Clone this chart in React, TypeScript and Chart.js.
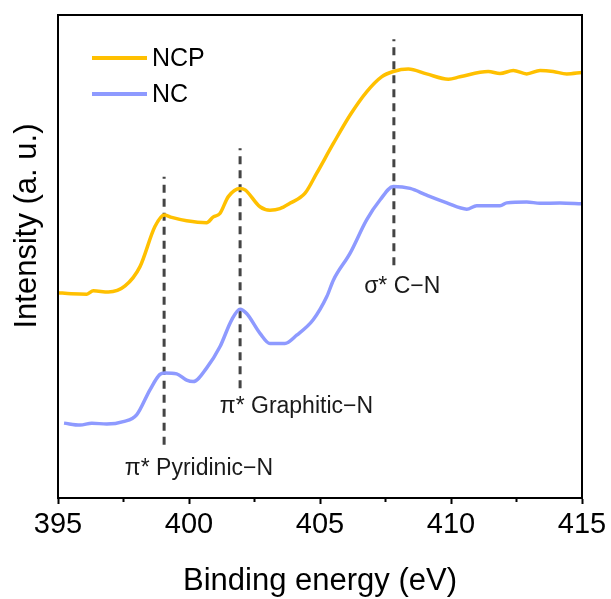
import React, { useEffect, useRef } from "react";
import { Chart, registerables } from "chart.js";

Chart.register(...registerables);

// N K-edge NEXAFS spectra
const ncpEnergy = [395.0, 395.5, 396.1, 396.35, 396.92, 397.56, 398.13, 398.7, 399.05, 399.34, 399.91, 400.67, 400.93, 401.18, 401.5, 401.95, 402.14, 402.71, 403.09, 403.47, 403.85, 404.43, 404.87, 405.51, 406.15, 406.78, 407.35, 407.8, 408.37, 409.07, 409.9, 410.34, 411.42, 411.87, 412.38, 412.89, 413.4, 413.9, 414.42, 414.99];
const ncpIntensity = [42.5, 42.3, 42.2, 42.9, 42.65, 43.9, 47.9, 56.2, 58.6, 58.1, 57.4, 57.0, 58.2, 58.9, 62.4, 64.1, 63.8, 60.3, 59.6, 59.9, 61.0, 63.1, 67.2, 73.4, 79.3, 84.1, 87.2, 88.3, 88.8, 87.8, 86.7, 87.2, 88.3, 87.9, 88.5, 87.8, 88.5, 88.3, 87.8, 88.1];

const ncEnergy = [395.23, 395.84, 396.29, 396.86, 397.49, 398.0, 398.51, 398.89, 399.08, 399.53, 399.91, 400.16, 400.67, 401.18, 401.63, 401.95, 402.2, 402.71, 403.09, 403.66, 404.11, 404.74, 405.26, 405.51, 406.15, 406.78, 407.29, 407.8, 408.44, 409.07, 409.84, 410.6, 410.98, 411.87, 412.13, 412.89, 413.4, 414.16, 414.99];
const ncIntensity = [15.5, 15.1, 15.5, 15.3, 15.8, 17.2, 22.4, 25.6, 25.9, 25.7, 24.4, 24.1, 26.9, 31.3, 36.9, 39.1, 38.2, 34.1, 32.0, 32.0, 33.7, 36.9, 41.7, 45.1, 50.7, 57.6, 61.7, 64.5, 64.1, 62.7, 61.1, 59.8, 60.5, 60.5, 61.1, 61.3, 61.0, 61.1, 60.9];

// Resonance markers
const peakEnergy = [399.05, 401.95, 407.82];
const peakTop = [66.5, 72.4, 95.0];
const peakBottom = [11.0, 22.7, 48.2];
const peakLabels = ["π* Pyridinic−N", "π* Graphitic−N", "σ* C−N"];
const peakLabelX = [400.38, 404.1, 408.14];
const peakLabelY = [6.1, 18.9, 43.7];

const seriesNames = ["NCP", "NC"];
const seriesColors = ["#FFC000", "#8E9AFF"];

const xTicks = [395, 400, 405, 410, 415];
const xMinorTicks = [397.5, 402.5, 407.5, 412.5];

const FONT = "'Liberation Sans', Arial, sans-serif";

const toPoints = (xs: number[], ys: number[]) => xs.map((x, i) => ({ x, y: ys[i] }));

const decorPlugin = {
  id: "decor",
  afterDraw(chart: any) {
    const { ctx, chartArea, scales } = chart;
    const xs = scales.x;
    const ys = scales.y;
    ctx.save();
    // frame
    ctx.strokeStyle = "#000";
    ctx.lineWidth = 2;
    ctx.strokeRect(chartArea.left, chartArea.top, chartArea.right - chartArea.left, chartArea.bottom - chartArea.top);
    // minor ticks
    xMinorTicks.forEach((v) => {
      const px = xs.getPixelForValue(v);
      ctx.beginPath();
      ctx.moveTo(px, chartArea.bottom);
      ctx.lineTo(px, chartArea.bottom + 4);
      ctx.stroke();
    });
    // peak labels
    ctx.fillStyle = "#1a1a1a";
    ctx.font = `23px ${FONT}`;
    ctx.textAlign = "center";
    ctx.textBaseline = "middle";
    peakLabels.forEach((t, i) => {
      ctx.fillText(t, xs.getPixelForValue(peakLabelX[i]), ys.getPixelForValue(peakLabelY[i]));
    });
    // legend
    ctx.font = `25px ${FONT}`;
    ctx.textAlign = "left";
    seriesNames.forEach((name, i) => {
      const y = 58 + i * 36;
      ctx.strokeStyle = seriesColors[i];
      ctx.lineWidth = 4;
      ctx.beginPath();
      ctx.moveTo(92, y);
      ctx.lineTo(147, y);
      ctx.stroke();
      ctx.fillStyle = "#000";
      ctx.fillText(name, 152, y + 1);
    });
    // axis titles
    ctx.font = `31px ${FONT}`;
    ctx.textAlign = "center";
    ctx.textBaseline = "alphabetic";
    ctx.fillText("Binding energy (eV)", (chartArea.left + chartArea.right) / 2, 590);
    ctx.translate(36, 226);
    ctx.rotate(-Math.PI / 2);
    ctx.fillText("Intensity (a. u.)", 0, 0);
    ctx.restore();
  },
};

export default function App() {
  const canvasRef = useRef<HTMLCanvasElement>(null);

  useEffect(() => {
    if (!canvasRef.current) return;
    const markerSets = peakEnergy.map((e, i) => ({
      label: peakLabels[i],
      data: [
        { x: e, y: peakBottom[i] },
        { x: e, y: peakTop[i] },
      ],
      borderColor: "#444444",
      borderWidth: 3,
      borderDash: [8, 6],
      pointRadius: 0,
      fill: false,
    }));
    const chart = new Chart(canvasRef.current, {
      type: "line",
      data: {
        datasets: [
          {
            label: seriesNames[0],
            data: toPoints(ncpEnergy, ncpIntensity),
            borderColor: seriesColors[0],
            borderWidth: 3.5,
            pointRadius: 0,
            cubicInterpolationMode: "monotone",
            fill: false,
          },
          {
            label: seriesNames[1],
            data: toPoints(ncEnergy, ncIntensity),
            borderColor: seriesColors[1],
            borderWidth: 3.5,
            pointRadius: 0,
            cubicInterpolationMode: "monotone",
            fill: false,
          },
          ...markerSets,
        ],
      },
      options: {
        animation: false,
        responsive: true,
        maintainAspectRatio: false,
        layout: { padding: { top: 15, right: 29, left: 0, bottom: 0 } },
        plugins: { legend: { display: false }, tooltip: { enabled: false } },
        scales: {
          x: {
            type: "linear",
            min: 395,
            max: 415,
            afterFit: (s: any) => {
              s.height = 101;
            },
            afterBuildTicks: (s: any) => {
              s.ticks = xTicks.map((v) => ({ value: v }));
            },
            ticks: {
              color: "#000",
              font: { family: FONT, size: 29 },
              padding: 4,
              maxRotation: 0,
              autoSkip: false,
            },
            grid: {
              display: true,
              drawOnChartArea: false,
              drawTicks: true,
              tickLength: 6,
              tickWidth: 2,
              tickColor: "#000",
            },
            border: { display: true, color: "#000", width: 2 },
          },
          y: {
            type: "linear",
            min: 0,
            max: 100,
            afterFit: (s: any) => {
              s.width = 58;
            },
            ticks: { display: false },
            grid: { display: false, drawTicks: false },
            border: { display: true, color: "#000", width: 2 },
          },
        },
      },
      plugins: [decorPlugin],
    });
    return () => chart.destroy();
  }, []);

  return (
    <div style={{ position: "absolute", left: 0, top: 0, width: 611, height: 599, background: "#fff" }}>
      <canvas ref={canvasRef} />
    </div>
  );
}
